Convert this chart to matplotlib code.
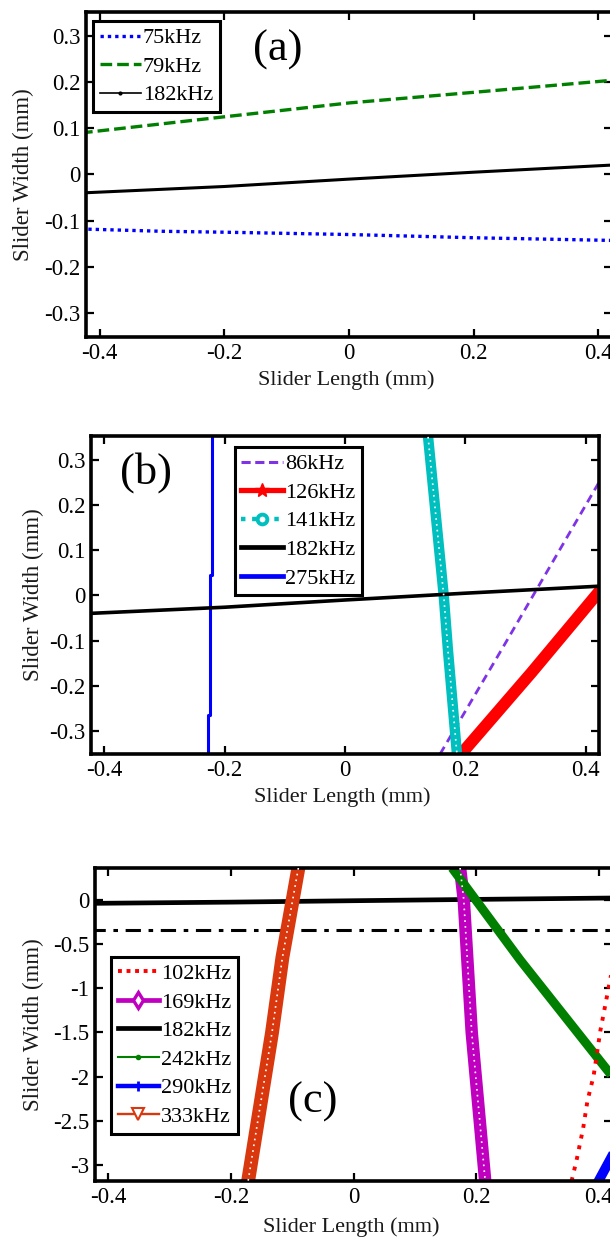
import matplotlib
matplotlib.use("Agg")
import matplotlib.pyplot as plt
from matplotlib.lines import Line2D
from matplotlib.ticker import FuncFormatter

plt.rcParams['font.family'] = ['Liberation Serif', 'DejaVu Serif']
plt.rcParams['axes.unicode_minus'] = False

# ---------------- data ----------------
# common 182 kHz nodal line
x182 = [-0.43, -0.20, 0.00, 0.20, 0.43]
y182 = [-0.040, -0.026, -0.010, 0.005, 0.021]

# panel (a)
x75 = [-0.43, -0.30, -0.20, 0.00, 0.20, 0.43]
y75 = [-0.118, -0.123, -0.125, -0.130, -0.137, -0.143]
x79 = [-0.43, -0.20, 0.00, 0.20, 0.43]
y79 = [0.090, 0.125, 0.155, 0.178, 0.205]

# panel (b)
x86 = [0.158, 0.26, 0.43]
y86 = [-0.35, -0.12, 0.268]
x126 = [0.193, 0.310, 0.425]
y126 = [-0.35, -0.17, 0.013]
x141 = [0.138, 0.164, 0.171, 0.186]
y141 = [0.35, 0.0, -0.12, -0.35]
x275 = [-0.221, -0.221, -0.224, -0.224, -0.228, -0.228]
y275 = [0.35, 0.046, 0.046, -0.263, -0.263, -0.35]

# panel (c)
x102 = [0.356, 0.364, 0.375, 0.382, 0.392, 0.403, 0.421, 0.430]
y102 = [-3.18, -2.95, -2.58, -2.27, -1.99, -1.48, -0.83, -0.60]
x169 = [0.174, 0.180, 0.193, 0.215]
y169 = [0.36, 0.0, -1.5, -3.18]
x242 = [0.161, 0.272, 0.424, 0.43]
y242 = [0.36, -0.68, -2.01, -2.06]
x290 = [0.400, 0.425]
y290 = [-3.18, -2.86]
x333 = [-0.090, -0.116, -0.133, -0.172]
y333 = [0.36, -0.65, -1.50, -3.18]
edge_y = -0.34
edge_x = [-0.43, 0.43]

xticks = [-0.4, -0.2, 0.0, 0.2, 0.4]
yticks_ab = [-0.3, -0.2, -0.1, 0.0, 0.1, 0.2, 0.3]
yticks_c = [-3.0, -2.5, -2.0, -1.5, -1.0, -0.5, 0.0]

# ---------------- colours ----------------
C_BLUE = '#0000FF'
C_GREEN = '#007F00'
C_PURPLE = '#7F33E6'
C_RED = '#FF0000'
C_CYAN = '#00BFBF'
C_MAG = '#BF00BF'
C_ORANGE = '#D9380F'

W, H = 610, 1239
fig = plt.figure(figsize=(W / 100, H / 100), dpi=100)


def px_axes(left, top, right, bottom):
    return fig.add_axes([left / W, 1 - bottom / H, (right - left) / W, (bottom - top) / H])


axa = px_axes(86, 12, 612, 337)
axb = px_axes(91, 436, 599, 754)
axc = px_axes(95, 868, 612, 1181)

fmt = FuncFormatter(lambda v, p: '0' if abs(v) < 1e-9 else '%g' % v)


def style(ax, yt, ylim, ylab_x, xlab_y):
    ax.set_xlim(-0.422, 0.422)
    ax.set_ylim(*ylim)
    ax.set_xticks(xticks)
    ax.set_yticks(yt)
    ax.xaxis.set_major_formatter(fmt)
    ax.yaxis.set_major_formatter(fmt)
    ax.tick_params(direction='in', top=True, right=True, length=6, width=1.6,
                   labelsize=16.5, pad=4)
    for s in ax.spines.values():
        s.set_linewidth(2.6)
    ax.set_xlabel('Slider Length (mm)', fontsize=16, color='#1a1a1a', va='center')
    ax.set_ylabel('Slider Width (mm)', fontsize=16.5, color='#1a1a1a', va='center')
    ax.yaxis.set_label_coords(ylab_x, 0.5)
    ax.xaxis.set_label_coords(0.495, xlab_y)


def speckle(ax, x, y):
    ax.plot(x, y, color='white', lw=1.2, ls=(0, (1, 2.5)), zorder=4)


leg_kw = dict(loc='upper left', fontsize=16, handlelength=1.85, handletextpad=0.1,
              labelspacing=0.36, borderpad=0.3, borderaxespad=0, fancybox=False,
              framealpha=1, edgecolor='black')

# ---------------- panel (a) ----------------
axa.plot(x75, y75, color=C_BLUE, lw=2.4, ls=(0, (1, 1.2)))
axa.plot(x79, y79, color=C_GREEN, lw=2.4, ls=(0, (3.5, 1.5)))
axa.plot(x182, y182, color='black', lw=2.2)
style(axa, yticks_ab, (-0.352, 0.352), -0.118, -0.132)
ha = [Line2D([], [], color=C_BLUE, lw=2.4, ls=(0, (1, 1.2))),
      Line2D([], [], color=C_GREEN, lw=2.4, ls=(0, (3.5, 1.5))),
      Line2D([], [], color='black', lw=1.2, marker='.', markersize=4)]
lga = axa.legend(ha, ['75kHz', '79kHz', '182kHz'], bbox_to_anchor=(0.013, 0.972), **leg_kw)
lga.get_frame().set_linewidth(2.2)
axa.text(0.365, 0.883, '(a)', transform=axa.transAxes, fontsize=32, ha='center', va='center')

# ---------------- panel (b) ----------------
axb.plot(x275, y275, color=C_BLUE, lw=2.2)
axb.plot(x86, y86, color=C_PURPLE, lw=2.0, ls=(0, (3, 2)))
axb.plot(x126, y126, color=C_RED, lw=8.5, solid_capstyle='butt')
axb.plot(x141, y141, color=C_CYAN, lw=7.5, solid_capstyle='butt')
speckle(axb, x141, y141)
axb.plot(x182, y182, color='black', lw=2.6)
style(axb, yticks_ab, (-0.35, 0.352), -0.114, -0.135)
hb = [Line2D([], [], color=C_PURPLE, lw=2.2, ls=(0, (3, 1.5))),
      Line2D([], [], color=C_RED, lw=3.8, marker='*', markersize=10),
      Line2D([], [], color=C_CYAN, lw=3.2, ls=(0, (1, 1.5)), marker='o', markersize=7,
             markerfacecolor='white', markeredgewidth=2.8),
      Line2D([], [], color='black', lw=3.4),
      Line2D([], [], color=C_BLUE, lw=3.4)]
lgb = axb.legend(hb, ['86kHz', '126kHz', '141kHz', '182kHz', '275kHz'],
                 bbox_to_anchor=(0.283, 0.965), **leg_kw)
lgb.get_frame().set_linewidth(2.2)
axb.text(0.108, 0.884, '(b)', transform=axb.transAxes, fontsize=32, ha='center', va='center')

# ---------------- panel (c) ----------------
axc.plot(edge_x, [edge_y, edge_y], color='black', lw=2.2, ls=(0, (5, 2.5, 1.5, 2.5)))
axc.plot(x182, y182, color='black', lw=3.4)
axc.plot(x333, y333, color=C_ORANGE, lw=10.0, solid_capstyle='butt')
speckle(axc, x333, y333)
axc.plot(x169, y169, color=C_MAG, lw=9.0, solid_capstyle='butt')
speckle(axc, x169, y169)
axc.plot(x242, y242, color=C_GREEN, lw=6.5, solid_capstyle='butt')
axc.plot(x102, y102, color=C_RED, lw=2.8, ls=(0, (1, 1.8)))
axc.plot(x290, y290, color=C_BLUE, lw=7.0)
style(axc, yticks_c, (-3.18, 0.36), -0.12, -0.147)
hc = [Line2D([], [], color=C_RED, lw=2.8, ls=(0, (1, 1.2))),
      Line2D([], [], color=C_MAG, lw=3.4, marker='d', markersize=8,
             markerfacecolor='white', markeredgewidth=2.4),
      Line2D([], [], color='black', lw=3.4),
      Line2D([], [], color=C_GREEN, lw=1.5, marker='.', markersize=6),
      Line2D([], [], color=C_BLUE, lw=3.2, marker='|', markersize=7, markeredgewidth=2),
      Line2D([], [], color=C_ORANGE, lw=1.7, marker='v', markersize=9,
             markerfacecolor='white', markeredgewidth=1.5)]
lgc = axc.legend(hc, ['102kHz', '169kHz', '182kHz', '242kHz', '290kHz', '333kHz'],
                 bbox_to_anchor=(0.031, 0.716), **leg_kw)
lgc.get_frame().set_linewidth(2.2)
axc.text(0.422, 0.252, '(c)', transform=axc.transAxes, fontsize=32, ha='center', va='center')

fig.savefig('out.png', dpi=100)
